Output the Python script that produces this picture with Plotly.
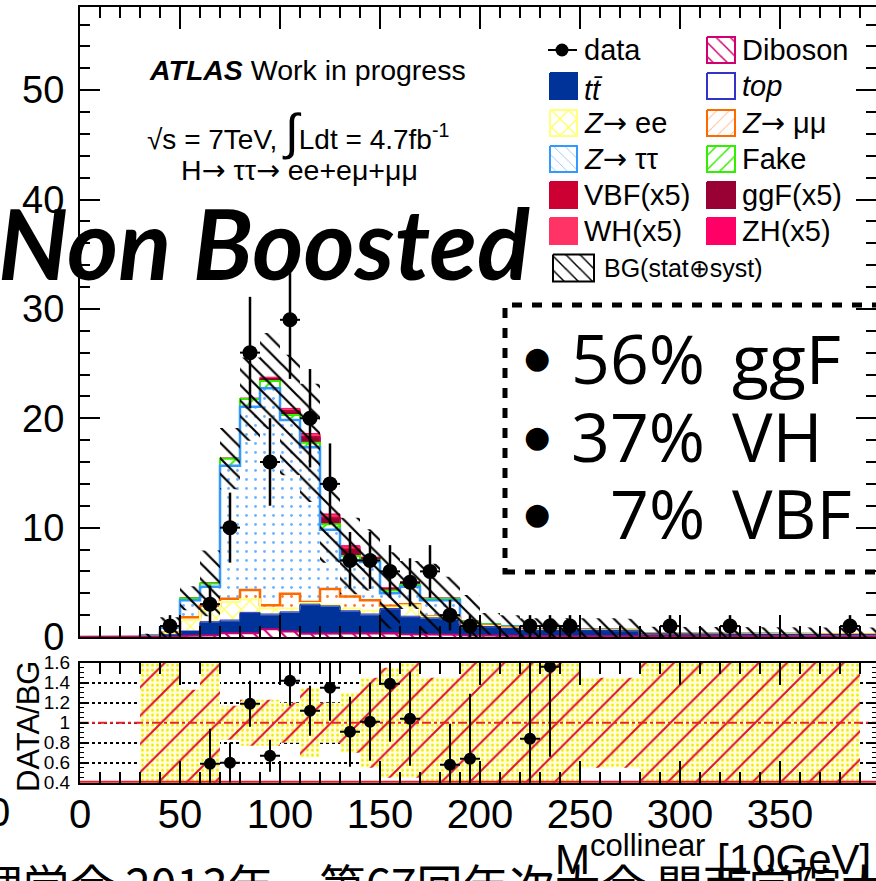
import numpy as np
import plotly.graph_objects as go

W, H = 876, 881

# ---------------------------------------------------------------- data
# histogram bins: 10-unit wide, 0 .. 400
edges = np.arange(0, 410, 10)

diboson = [0, 0, 0, 0.02, 0.05, 0.10, 0.15, 0.35, 0.35, 0.70,
           0.50, 0.30, 0.35, 0.30, 0.30, 0.35, 0.25, 0.20, 0.20, 0.15,
           0.10, 0.10, 0.08, 0.08, 0.08, 0.08, 0.08, 0.08, 0.05, 0.05,
           0.05, 0.05, 0.05, 0.05, 0.05, 0.05, 0.05, 0.05, 0.05, 0.05]
ttbar = [0, 0, 0, 0.05, 0.13, 0.40, 1.15, 1.10, 1.80, 1.30,
         1.70, 2.60, 2.40, 2.00, 1.70, 2.15, 1.55, 1.45, 1.35, 0.75,
         0.80, 0.65, 0.50, 0.52, 0.50, 0.48, 0.50, 0.45, 0.22, 0.20,
         0.20, 0.18, 0.20, 0.18, 0.16, 0.18, 0.16, 0.15, 0.15, 0.14]
single_top = [0, 0, 0, 0, 0.02, 0.05, 0.10, 0.10, 0.10, 0.10,
              0.10, 0.10, 0.10, 0.10, 0.10, 0.10, 0.10, 0.10, 0.10, 0.05,
              0.05, 0.05, 0.04, 0.04, 0.04, 0.04, 0.04, 0.04, 0.03, 0.03,
              0.03, 0.03, 0.03, 0.03, 0.03, 0.03, 0.03, 0.03, 0.03, 0.03]
z_ee = [0, 0, 0, 0.03, 0.15, 1.00, 1.10, 1.65, 1.20, 0.50,
        0.30, 0.10, 0.10, 0.20, 0.30, 0.10, 1.00, 0.10, 0.05, 0.10,
        0.05, 0.05, 0.02, 0.02, 0.02, 0.02, 0.02, 0.02, 0.01, 0.01,
        0.01, 0.01, 0.01, 0.01, 0.01, 0.01, 0.01, 0.01, 0.01, 0.01]
z_mumu = [0, 0, 0, 0, 0.05, 0.25, 0.35, 0.30, 0.85, 0.30,
          1.35, 0.10, 1.45, 1.10, 0.95, 0.15, 0.10, 0.05, 0.05, 0.25,
          0.05, 0.05, 0.02, 0.02, 0.02, 0.02, 0.02, 0.02, 0.01, 0.01,
          0.01, 0.01, 0.01, 0.01, 0.01, 0.01, 0.01, 0.01, 0.01, 0.01]
z_tautau = [0, 0, 0, 0.05, 0.45, 1.55, 1.75, 12.15, 16.75, 19.85,
            15.90, 14.15, 5.40, 3.30, 3.50, 1.15, 1.60, 1.45, 1.60, 0.05,
            0.05, 0.05, 0.04, 0.04, 0.04, 0.04, 0.04, 0.04, 0.01, 0.01,
            0.01, 0.01, 0.01, 0.01, 0.01, 0.01, 0.01, 0.01, 0.01, 0.01]
fake = [0, 0, 0, 0, 0.05, 0.20, 0.30, 0.65, 0.70, 0.65,
        0.45, 0.40, 0.50, 0.40, 0.20, 0.25, 0.15, 0.15, 0.15, 0.10,
        0.10, 0.05, 0.02, 0.02, 0.02, 0.02, 0.02, 0.02, 0.01, 0.01,
        0.01, 0.01, 0.01, 0.01, 0.01, 0.01, 0.01, 0.01, 0.01, 0.01]
# Higgs signal samples, scaled x5
ggf_x5 = [0, 0, 0, 0, 0, 0.01, 0.02, 0.03, 0.05, 0.20,
          0.35, 0.50, 0.55, 0.55, 0.15, 0.15, 0.08, 0.03, 0.03, 0,
          0, 0, 0, 0, 0, 0, 0, 0, 0, 0, 0, 0, 0, 0, 0, 0, 0, 0, 0, 0]
vbf_x5 = [0, 0, 0, 0, 0, 0, 0, 0, 0.01, 0.03,
          0.05, 0.08, 0.10, 0.10, 0.03, 0.03, 0.02, 0.01, 0.01, 0,
          0, 0, 0, 0, 0, 0, 0, 0, 0, 0, 0, 0, 0, 0, 0, 0, 0, 0, 0, 0]
wh_x5 = [0, 0, 0, 0, 0, 0.01, 0, 0.01, 0.01, 0.08,
         0.13, 0.17, 0.18, 0.18, 0.05, 0.05, 0.03, 0.01, 0.01, 0,
         0, 0, 0, 0, 0, 0, 0, 0, 0, 0, 0, 0, 0, 0, 0, 0, 0, 0, 0, 0]
zh_x5 = [0, 0, 0, 0, 0, 0, 0.01, 0.01, 0.01, 0.04,
         0.07, 0.10, 0.12, 0.12, 0.02, 0.02, 0.02, 0, 0, 0,
         0, 0, 0, 0, 0, 0, 0, 0, 0, 0, 0, 0, 0, 0, 0, 0, 0, 0, 0, 0]
# total background uncertainty (stat + syst), absolute
bg_err = [0, 0, 0, 0.15, 0.90, 1.10, 3.00, 2.80, 3.80, 4.40,
          5.50, 5.40, 3.50, 3.50, 2.80, 3.50, 2.20, 3.20, 2.00, 2.40,
          1.00, 1.00, 1.00, 1.00, 1.00, 1.00, 1.00, 1.00, 0.60, 0.60,
          0.60, 0.60, 0.60, 0.60, 0.60, 0.60, 0.60, 0.60, 0.60, 0.60]

data_x = [45, 65, 75, 85, 95, 105, 115, 125, 135, 145, 155,
          165, 175, 185, 195, 225, 235, 245, 295, 325, 385]
data_y = [1, 3, 10, 26, 16, 29, 20, 14, 7, 7, 6, 5, 6, 2, 1, 1, 1, 1, 1, 1, 1]
data_err = [1.0, 1.7, 3.2, 5.1, 4.0, 5.4, 4.5, 3.7, 2.6, 2.6, 2.4,
            2.2, 2.4, 1.4, 1.0, 1.0, 1.0, 1.0, 1.0, 1.0, 1.0]

# DATA/BG ratio panel
ratio_x = [65, 75, 85, 95, 105, 115, 125, 135, 145, 155, 165, 185, 195, 225, 235]
ratio_y = [0.59, 0.60, 1.19, 0.67, 1.42, 1.12, 1.35, 0.91, 1.01, 1.39, 1.04,
           0.58, 0.64, 0.84, 1.56]
ratio_err = [0.35, 0.20, 0.23, 0.16, 0.25, 0.25, 0.33, 0.35, 0.39, 0.58, 0.47,
             0.41, 0.65, 0.90, 0.90]
band_up = [0, 0, 0, 0.8, 0.8, 0.33, 0.8, 0.17, 0.23, 0.23,
           0.20, 0.35, 0.20, 0.30, 0.45, 0.55, 0.8, 0.45, 0.45, 0.8,
           0.8, 0.8, 0.8, 0.8, 0.8, 0.45, 0.45, 0.45, 0.8, 0.8,
           0.8, 0.8, 0.8, 0.8, 0.8, 0.8, 0.8, 0.8, 0.8, 0]
band_dn = [0, 0, 0, 0.8, 0.8, 0.8, 0.8, 0.17, 0.23, 0.23,
           0.20, 0.35, 0.20, 0.30, 0.45, 0.55, 0.55, 0.8, 0.8, 0.8,
           0.8, 0.8, 0.8, 0.8, 0.8, 0.45, 0.45, 0.45, 0.8, 0.8,
           0.8, 0.8, 0.8, 0.8, 0.8, 0.8, 0.8, 0.8, 0.8, 0]

ratio_ticks = [0.4, 0.6, 0.8, 1.0, 1.2, 1.4, 1.6]
ratio_ticktext = ["0.4", "0.6", "0.8", "1", "1.2", "1.4", "1.6"]

# ---------------------------------------------------------------- helpers
def step_xy(vals):
    """Bin contents -> step outline (x, y)."""
    xs = np.repeat(edges, 2)[1:-1]
    ys = np.repeat(np.asarray(vals, float), 2)
    return xs, ys


def band_xy(lo, hi):
    xs, yh = step_xy(hi)
    _, yl = step_xy(lo)
    return np.concatenate([xs, xs[::-1]]), np.concatenate([yh, yl[::-1]])


def outline_xy(vals):
    xs, ys = step_xy(vals)
    return (np.concatenate([[edges[0]], xs, [edges[-1]]]),
            np.concatenate([[0], ys, [0]]))


fig = go.Figure()

# stacked backgrounds + signals (bottom -> top)
stack = [
    ("Diboson", diboson, "#d0006f", "white", dict(shape="\\", fgcolor="#d0006f", size=10, solidity=0.2), 2.0),
    ("tt", ttbar, "#003399", "#003399", None, 1.0),
    ("top", single_top, "#3333cc", "white", None, 1.0),
    ("Zee", z_ee, "#ffff80", "white", dict(shape="x", fgcolor="#ffff60", size=12, solidity=0.2), 2.0),
    ("Zmumu", z_mumu, "#ff6a00", "white", dict(shape=".", fgcolor="#ff7a30", size=9, solidity=0.08), 2.5),
    ("Ztautau", z_tautau, "#3399ff", "white", dict(shape=".", fgcolor="#6fb4ff", size=9, solidity=0.08), 2.5),
    ("Fake", fake, "#33ee00", "white", dict(shape="/", fgcolor="#33ee00", size=10, solidity=0.2), 2.0),
    ("ggF", ggf_x5, "#990033", "#990033", None, 1.0),
    ("VBF", vbf_x5, "#cc0033", "#cc0033", None, 1.0),
    ("WH", wh_x5, "#ff3366", "#ff3366", None, 1.0),
    ("ZH", zh_x5, "#ff0066", "#ff0066", None, 1.0),
]

cum = np.zeros(len(edges) - 1)
levels = []
for name, vals, lc, fc, pat, lw in stack:
    lo = cum.copy()
    cum = cum + np.asarray(vals, float)
    levels.append((name, lo, cum.copy(), lc, fc, pat, lw))

for name, lo, hi, lc, fc, pat, lw in levels:
    bx, by = band_xy(lo, hi)
    kw = dict(fillpattern=pat) if pat else {}
    fig.add_trace(go.Scatter(x=bx, y=by, fill="toself", fillcolor=fc,
                             line=dict(width=0), mode="lines", hoverinfo="skip",
                             showlegend=False, xaxis="x", yaxis="y", **kw))

# outlines, upper components first so the lower ones stay on top
for name, lo, hi, lc, fc, pat, lw in reversed(levels):
    ox, oy = outline_xy(hi)
    fig.add_trace(go.Scatter(x=ox, y=oy, mode="lines", line=dict(color=lc, width=lw),
                             hoverinfo="skip", showlegend=False, xaxis="x", yaxis="y"))

bg_tot = levels[6][2]
err = np.asarray(bg_err, float)
ex, ey = band_xy(np.clip(bg_tot - err, 0, None), bg_tot + err)
fig.add_trace(go.Scatter(x=ex, y=ey, fill="toself", fillcolor="rgba(0,0,0,0)",
                         fillpattern=dict(shape="\\", fgcolor="black", bgcolor="rgba(0,0,0,0)",
                                          size=11, solidity=0.2),
                         line=dict(width=0), mode="lines", hoverinfo="skip",
                         showlegend=False, xaxis="x", yaxis="y"))

fig.add_trace(go.Scatter(
    x=data_x, y=data_y, mode="markers",
    marker=dict(color="black", size=15),
    error_y=dict(type="data", array=data_err, color="black", thickness=2.5, width=0),
    error_x=dict(type="constant", value=5, color="black", thickness=2, width=0),
    hoverinfo="skip", showlegend=False, xaxis="x", yaxis="y"))

# ratio panel band: light yellow with red hatching
rlo = 1 - np.asarray(band_dn, float)
rhi = 1 + np.asarray(band_up, float)
rx, ry = band_xy(rlo, rhi)
fig.add_trace(go.Scatter(x=rx, y=ry, fill="toself", fillcolor="rgba(0,0,0,0)",
                         fillpattern=dict(shape=".", fgcolor="#f2ea00", bgcolor="#ffffe0",
                                          size=5, solidity=0.25),
                         line=dict(width=0), mode="lines", hoverinfo="skip",
                         showlegend=False, xaxis="x2", yaxis="y2"))
fig.add_trace(go.Scatter(x=rx, y=ry, fill="toself", fillcolor="rgba(0,0,0,0)",
                         fillpattern=dict(shape="/", fgcolor="#dd1133", bgcolor="rgba(0,0,0,0)",
                                          size=20, solidity=0.1),
                         line=dict(width=0), mode="lines", hoverinfo="skip",
                         showlegend=False, xaxis="x2", yaxis="y2"))
# reference lines at 1 and along the bottom
fig.add_trace(go.Scatter(x=[0, 400], y=[1, 1], mode="lines",
                         line=dict(color="#e8202a", width=2, dash="dashdot"),
                         hoverinfo="skip", showlegend=False, xaxis="x2", yaxis="y2"))
fig.add_trace(go.Scatter(x=[0, 400], y=[0.405, 0.405], mode="lines",
                         line=dict(color="#e8202a", width=3),
                         hoverinfo="skip", showlegend=False, xaxis="x2", yaxis="y2"))
fig.add_trace(go.Scatter(
    x=ratio_x, y=ratio_y, mode="markers",
    marker=dict(color="black", size=12),
    error_y=dict(type="data", array=ratio_err, color="black", thickness=2, width=0),
    error_x=dict(type="constant", value=5, color="black", thickness=2, width=0),
    hoverinfo="skip", showlegend=False, xaxis="x2", yaxis="y2"))

# ---------------------------------------------------------------- legend
def px(x):
    return x / W


def py(y):
    return 1 - y / H


def legend_box(x0, x1, yc, lc, fc, pat=None, h=26, lw=2):
    kw = dict(fillpattern=pat) if pat else {}
    fig.add_trace(go.Scatter(
        x=[x0, x1, x1, x0, x0], y=[yc - h / 2, yc - h / 2, yc + h / 2, yc + h / 2, yc - h / 2],
        fill="toself", fillcolor=fc, line=dict(color=lc, width=lw), mode="lines",
        hoverinfo="skip", showlegend=False, xaxis="x3", yaxis="y3", **kw))


c1x0, c1x1, c2x0, c2x1 = 550, 577, 707, 735
rows = [50, 86, 123, 159, 195, 231]
fig.add_trace(go.Scatter(x=[548, 577], y=[50, 50], mode="lines", line=dict(color="black", width=2),
                         hoverinfo="skip", showlegend=False, xaxis="x3", yaxis="y3"))
fig.add_trace(go.Scatter(x=[562], y=[50], mode="markers", marker=dict(color="black", size=13),
                         hoverinfo="skip", showlegend=False, xaxis="x3", yaxis="y3"))
legend_box(c1x0, c1x1, rows[1], "#003399", "#003399")
legend_box(c1x0, c1x1, rows[2], "#ffff80", "white", dict(shape="x", fgcolor="#ffff60", size=12, solidity=0.2))
legend_box(c1x0, c1x1, rows[3], "#3399ff", "white", dict(shape="\\", fgcolor="#66aaff", size=8, solidity=0.08))
legend_box(c1x0, c1x1, rows[4], "#cc0033", "#cc0033")
legend_box(c1x0, c1x1, rows[5], "#ff3366", "#ff3366")
legend_box(c2x0, c2x1, rows[0], "#d0006f", "white", dict(shape="\\", fgcolor="#d0006f", size=10, solidity=0.15))
legend_box(c2x0, c2x1, rows[1], "#3333cc", "white")
legend_box(c2x0, c2x1, rows[2], "#ff6a00", "white", dict(shape="/", fgcolor="#ff8a40", size=9, solidity=0.08))
legend_box(c2x0, c2x1, rows[3], "#33ee00", "white", dict(shape="/", fgcolor="#33ee00", size=10, solidity=0.15))
legend_box(c2x0, c2x1, rows[4], "#990033", "#990033")
legend_box(c2x0, c2x1, rows[5], "#ff0066", "#ff0066")
legend_box(553, 594, 268, "black", "white", dict(shape="\\", fgcolor="black", size=10, solidity=0.15), h=27)

SANS = "Liberation Sans"
ARROW = "<span style='font-family:DejaVu Sans'>→</span>"
annotations = []


def text(x, y, s, size, xanchor="left", yanchor="middle", family=SANS, **fkw):
    annotations.append(dict(x=px(x), y=py(y), xref="paper", yref="paper", text=s,
                            showarrow=False, xanchor=xanchor, yanchor=yanchor,
                            font=dict(family=family, size=size, color="black", **fkw)))


leg_font = 29
text(582, 50, "data", leg_font)
text(582, 90, "<i>t</i><i>t̄</i>", leg_font)
text(582, 123, "<i>Z</i>" + ARROW + " ee", leg_font)
text(582, 159, "<i>Z</i>" + ARROW + " ττ", leg_font)
text(582, 195, "VBF(x5)", leg_font)
text(582, 231, "WH(x5)", leg_font)
text(740, 50, "Diboson", leg_font)
text(740, 86, "<i>top</i>", leg_font)
text(740, 123, "<i>Z</i>" + ARROW + " μμ", leg_font)
text(740, 159, "Fake", leg_font)
text(740, 195, "ggF(x5)", leg_font)
text(740, 231, "ZH(x5)", leg_font)
text(602, 268, "BG(stat⊕syst)", 25)

# experiment labels
text(147, 70, "<b><i>ATLAS</i></b> Work in progress", 28.5)
text(145, 132, "√s = 7TeV, <span style='font-size:50px'>∫</span>Ldt = 4.7fb<sup>-1</sup>", 28)
text(179, 171, "H" + ARROW + " ττ" + ARROW + " ee+eμ+μμ", 28.5)

# category label
text(-4, 242, "Non Boosted", 98, family="Lato", weight="bold", style="italic")

# production-mode fractions
bul = 68
for yc, frac, mode in [(357, "56%", "ggF"), (435, "37%", "VH"), (512, "7%", "VBF")]:
    text(537, yc + 1, "●", 30, xanchor="center", family="DejaVu Sans")
    text(707, yc, frac, bul, xanchor="right", family="Open Sans")
    text(730, yc, mode, bul, family="Open Sans")

# axis labels
text(28, 727, "DATA/BG", 31, xanchor="center")
annotations[-1]["textangle"] = -90
text(-14, 812, "0", 40)
text(-163, 883, "日本物理学会 2013年　第67回年次大会 関西学院大学", 46,
     family="Noto Sans CJK JP", yanchor="middle")
text(553, 855, "M<sup><span style='font-size:31px'>collinear</span></sup> [10GeV]", 42)

fig.add_shape(type="rect", xref="paper", yref="paper",
              x0=px(505), x1=px(900), y0=py(572), y1=py(305),
              line=dict(color="black", width=5, dash="10px,10px"))

# ---------------------------------------------------------------- axes
y_main = [py(637), py(7)]
y_ratio = [py(782.7), py(662.7)]
xdom = [px(80), 1.0]

axis_common = dict(showline=True, linecolor="black", linewidth=2, mirror="ticks",
                   ticks="inside", tickcolor="black", showgrid=False, zeroline=False,
                   automargin=False)

fig.update_layout(
    template="none",
    width=W, height=H, margin=dict(l=0, r=0, t=0, b=0, pad=0), autosize=False,
    paper_bgcolor="white", plot_bgcolor="rgba(0,0,0,0)",
    showlegend=False, annotations=annotations,
    xaxis=dict(domain=xdom, range=[0, 398], anchor="y", showticklabels=False,
               dtick=50, tick0=0, ticklen=22, tickwidth=2,
               minor=dict(dtick=10, ticklen=11, ticks="inside", tickcolor="black", tickwidth=2),
               **axis_common),
    yaxis=dict(domain=y_main, range=[0, 57.6], anchor="x", dtick=10, tick0=0,
               ticklen=20, tickwidth=2,
               minor=dict(dtick=2, ticklen=10, ticks="inside", tickcolor="black", tickwidth=2),
               tickfont=dict(family=SANS, size=38, color="black"), ticklabelstandoff=6,
               **axis_common),
    xaxis2=dict(domain=xdom, range=[0, 398], anchor="y2", dtick=50, tick0=0,
                ticklen=22, tickwidth=2,
                minor=dict(dtick=10, ticklen=11, ticks="inside", tickcolor="black", tickwidth=2),
                tickfont=dict(family=SANS, size=40, color="black"), ticklabelstandoff=-5,
                **axis_common),
    yaxis2=dict(domain=y_ratio, range=[0.4, 1.6], anchor="x2", tickvals=ratio_ticks,
                ticktext=ratio_ticktext, ticklen=8, tickwidth=2,
                minor=dict(dtick=0.05, ticklen=4, ticks="inside", tickcolor="black", tickwidth=1),
                showgrid=True, gridcolor="black", griddash="dot", gridwidth=2,
                tickfont=dict(family=SANS, size=19, color="black"), ticklabelstandoff=4,
                showline=True, linecolor="black", linewidth=2, mirror="ticks",
                ticks="inside", tickcolor="black", zeroline=False, automargin=False),
    xaxis3=dict(domain=[0, 1], range=[0, W], anchor="y3", visible=False, automargin=False),
    yaxis3=dict(domain=[0, 1], range=[H, 0], anchor="x3", visible=False, automargin=False),
)

# the page body gets no default margin so the figure sits at the window origin
page_css = ("document.documentElement.style.margin='0';document.body.style.margin='0';"
            "document.documentElement.style.overflow='hidden';document.body.style.overflow='hidden';")
fig.write_html("out.html", config={"responsive": False}, post_script=page_css)
